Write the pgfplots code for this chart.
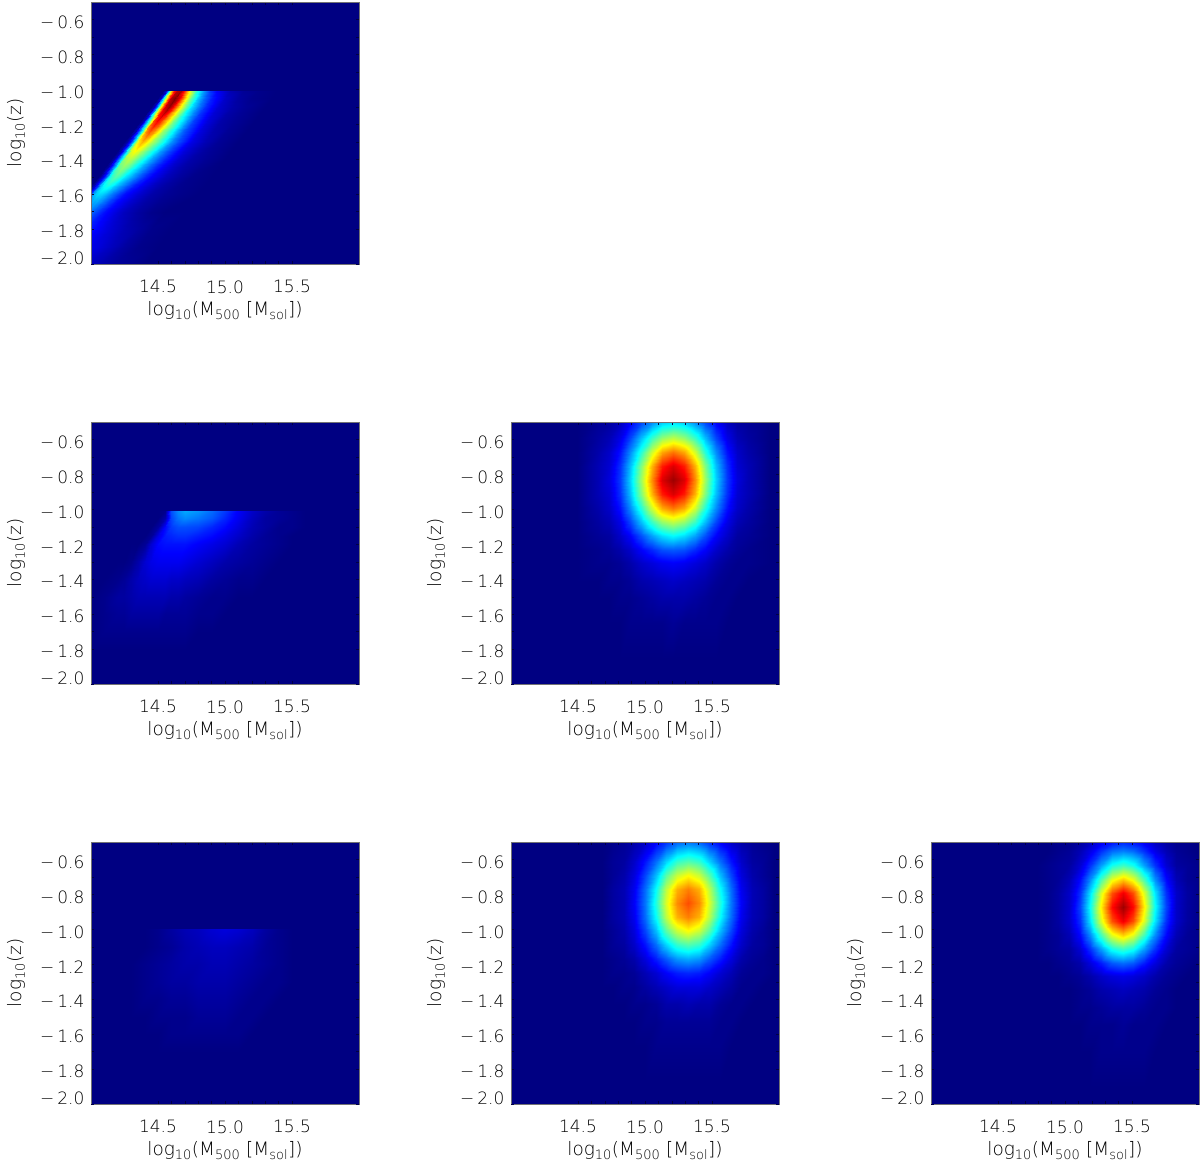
\documentclass[border=0pt]{standalone}
\usepackage{fontspec}
\setmainfont{DejaVu Sans ExtraLight}
\usepackage{pgfplots}
\usepackage{pgfplotstable}
\pgfplotsset{compat=1.18}

% first panel: the ridge runs diagonally, so each row starts at its left edge
% (column x0) and the header holds the distance from that edge
\pgfplotstableread{
y x0 0 .02 .04 .06 .08 .10 .13 .16 .20 .25 .30 .35 .40 .50 .60 .70 .85
-1.01 14.54 0 8 38 66 86 95 97 82 60 40 27 18 12 5 2 1 0
-1.05 14.50 0 7 32 58 82 95 100 92 68 47 32 22 15 7 3 1 0
-1.10 14.45 0 6 26 50 74 92 98 88 70 50 35 25 17 8 4 2 0
-1.20 14.35 0 5 18 36 58 78 86 80 65 50 38 27 19 9 4 2 0
-1.30 14.25 0 4 14 30 48 64 70 65 56 46 36 27 20 10 5 2 0
-1.40 14.15 0 4 12 26 40 52 56 53 46 37 29 22 16 8 4 2 0
-1.50 14.05 0 3 11 22 34 42 46 43 36 29 22 16 12 6 3 1 0
-1.60 13.95 0 6 16 26 32 34 33 30 25 19 14 11 8 4 2 1 0
-1.70 13.85 0 3 8 14 19 23 24 22 18 14 11 8 6 3 1 0 0
-1.80 13.75 0 2 5 8 12 15 17 17 16 14 12 10 8 5 3 1 0
-1.90 13.65 0 1 3 5 7 9 10 11 11 11 11 10 9 6 3 1 0
-2.00 13.55 0 1 2 3 4 5 6 7 7 7 7 7 7 5 3 2 0
}\panelA

% other panels: rows log z, columns log M, cells position on the colour scale (0-100)
\pgfplotstableread{
y x0 14.0 14.1 14.2 14.25 14.3 14.35 14.4 14.45 14.5 14.55 14.6 14.65 14.7 14.8 14.9 15.0 15.1 15.2 15.3 15.4 15.5 15.6 15.7
-1.01 0 0 0 0 0 0 0 0 0 0 1 20 26 29 27 23 18 12 7 4 2 1 0 0
-1.05 0 0 0 0 0 0 0 0 0 0 4 19 24 26 24 21 16 11 6 3 2 1 0 0
-1.10 0 0 0 0 0 0 0 0 0 3 13 18 20 20 19 16 13 9 5 3 1 1 0 0
-1.15 0 0 0 0 0 0 0 0 2 10 15 16 17 17 15 13 10 7 4 2 1 0 0 0
-1.20 0 0 0 0 0 0 0 2 8 13 14 14 14 14 12 10 8 5 3 2 1 0 0 0
-1.30 0 0 0 0 0 1 4 8 10 11 11 11 11 10 8 6 4 3 2 1 0 0 0 0
-1.40 0 0 0 1 2 4 6 7 8 8 8 7 7 6 5 3 2 1 1 0 0 0 0 0
-1.50 0 0 1 3 3 4 5 5 5 5 5 4 4 3 2 1 1 0 0 0 0 0 0 0
-1.60 0 0 1 2 2 3 3 3 3 3 2 2 2 2 1 1 0 0 0 0 0 0 0 0
-1.70 0 0 1 1 1 1 1 1 1 1 1 1 1 1 0 0 0 0 0 0 0 0 0 0
-1.80 0 0 0 0 0 0 0 0 0 0 0 0 0 0 0 0 0 0 0 0 0 0 0 0
}\panelB

\pgfplotstableread{
y x0 14.3 14.4 14.5 14.6 14.7 14.8 14.9 15.0 15.1 15.2 15.3 15.4 15.5 15.6
-1.0 0 0 0 1 3 5 6 8 9 8 6 3 1 0 0
-1.1 0 0 0 1 2 4 5 6 6 5 4 2 1 0 0
-1.2 0 0 1 2 3 4 4 5 5 4 3 2 1 0 0
-1.3 0 0 1 2 3 3 4 4 4 3 2 1 1 0 0
-1.4 0 0 1 1 2 2 3 3 3 2 1 1 0 0 0
-1.5 0 0 0 1 1 1 2 2 2 1 1 0 0 0 0
-1.6 0 0 0 0 1 1 1 1 1 1 0 0 0 0 0
-1.7 0 0 0 0 0 0 0 0 0 0 0 0 0 0 0
}\panelC

\pgfplotstableread{
y x0 14.49 14.65 14.73 14.81 14.89 14.97 15.05 15.13 15.21 15.29 15.37 15.45 15.53 15.61 15.69 15.77 15.93
-0.50 0 0 2 3 6 12 19 26 32 34 32 26 19 12 6 3 2 0
-0.59 0 0 3 5 10 19 31 43 52 56 52 43 31 19 10 5 3 0
-0.67 0 0 4 7 14 26 41 58 71 76 71 58 41 26 14 7 4 0
-0.75 0 0 5 8 17 31 50 70 85 91 85 70 50 31 17 8 5 0
-0.83 0 0 5 9 18 33 53 74 91 97 91 74 53 33 18 9 5 0
-0.91 0 0 5 8 17 31 50 70 85 91 85 70 50 31 17 8 5 0
-0.99 0 0 4 7 14 26 41 58 71 76 71 58 41 26 14 7 4 0
-1.07 0 0 3 5 10 19 31 43 52 56 52 43 31 19 10 5 3 0
-1.15 0 0 2 3 7 12 20 28 34 37 34 28 20 12 7 3 2 0
-1.23 0 0 1 2 4 7 12 16 20 21 20 16 12 7 4 2 1 0
-1.31 0 0 1 1 2 4 7 9 11 12 11 9 7 4 2 1 1 0
-1.41 0 0 0 1 1 2 4 5 6 7 6 5 4 2 1 1 0 0
-1.51 0 0 0 0 1 1 2 3 4 4 4 3 2 1 1 0 0 0
-1.65 0 0 0 0 0 1 1 1 1 2 1 1 1 1 0 0 0 0
-1.85 0 0 0 0 0 0 0 0 0 0 0 0 0 0 0 0 0 0
}\panelD

\pgfplotstableread{
y x0 14.68 14.76 14.84 14.92 15.00 15.08 15.16 15.24 15.32 15.40 15.48 15.56 15.64 15.72 15.80 15.88 15.96
-0.50 0 0 1 2 4 7 12 17 22 24 22 17 12 7 4 2 1 0
-0.61 0 0 2 3 7 14 23 33 42 45 42 33 23 14 7 3 2 0
-0.69 0 0 2 4 9 19 31 46 57 62 57 46 31 19 9 4 2 0
-0.77 0 0 3 5 11 23 38 56 70 75 70 56 38 23 11 5 3 0
-0.85 0 0 3 5 12 24 41 59 74 80 74 59 41 24 12 5 3 0
-0.93 0 0 3 5 11 23 38 56 70 75 70 56 38 23 11 5 3 0
-1.01 0 0 2 4 9 19 31 46 57 62 57 46 31 19 9 4 2 0
-1.09 0 0 2 3 7 14 23 33 42 45 42 33 23 14 7 3 2 0
-1.17 0 0 1 2 4 9 15 21 27 29 27 21 15 9 4 2 1 0
-1.25 0 0 1 1 2 5 8 12 15 16 15 12 8 5 2 1 1 0
-1.33 0 0 0 1 1 3 5 7 9 9 9 7 5 3 1 1 0 0
-1.43 0 0 0 0 1 1 2 4 4 5 4 4 2 1 1 0 0 0
-1.53 0 0 0 0 0 1 1 2 2 2 2 2 1 1 0 0 0 0
-1.67 0 0 0 0 0 0 1 1 1 1 1 1 1 0 0 0 0 0
-1.87 0 0 0 0 0 0 0 0 0 0 0 0 0 0 0 0 0 0
}\panelE

\pgfplotstableread{
y x0 14.79 14.87 14.95 15.03 15.11 15.19 15.27 15.35 15.43 15.51 15.59 15.67 15.75 15.83 15.91 15.99
-0.50 0 0 0 1 1 3 6 11 14 16 14 11 6 3 1 1 0
-0.55 0 0 0 1 2 5 10 17 23 25 23 17 10 5 2 1 0
-0.63 0 0 1 2 3 8 17 28 39 43 39 28 17 8 3 2 1
-0.71 0 0 1 2 5 13 26 44 60 67 60 44 26 13 5 2 1
-0.79 0 0 1 3 7 17 35 59 80 89 80 59 35 17 7 3 1
-0.87 0 0 1 3 7 19 38 64 87 97 87 64 38 19 7 3 1
-0.95 0 0 1 3 7 17 35 59 80 89 80 59 35 17 7 3 1
-1.03 0 0 1 2 5 13 26 44 60 67 60 44 26 13 5 2 1
-1.11 0 0 1 2 3 8 17 28 39 43 39 28 17 8 3 2 1
-1.19 0 0 0 1 2 4 9 15 21 23 21 15 9 4 2 1 0
-1.27 0 0 0 0 1 2 4 7 9 10 9 7 4 2 1 0 0
-1.35 0 0 0 0 0 1 2 4 5 6 5 4 2 1 0 0 0
-1.45 0 0 0 0 0 1 1 2 3 3 3 2 1 1 0 0 0
-1.55 0 0 0 0 0 0 1 1 1 2 1 1 1 0 0 0 0
-1.70 0 0 0 0 0 0 0 1 1 1 1 1 0 0 0 0 0
-1.90 0 0 0 0 0 0 0 0 0 0 0 0 0 0 0 0 0
}\panelF

% wide table -> (x,y)[value] list for the mesh
\newcommand\loadgrid[1]{%
  \pgfplotstablegetrowsof{#1}\pgfmathtruncatemacro\lastr{\pgfplotsretval-1}%
  \pgfplotstablegetcolsof{#1}\pgfmathtruncatemacro\lastc{\pgfplotsretval-1}%
  \pgfmathtruncatemacro\gridcols{\lastc-1}%
  \gdef\gridcoords{}%
  \foreach \r in {0,...,\lastr}{%
    \pgfplotstablegetelem{\r}{[index]0}\of{#1}\let\yy\pgfplotsretval
    \pgfplotstablegetelem{\r}{[index]1}\of{#1}\let\xnull\pgfplotsretval
    \foreach \c in {2,...,\lastc}{%
      \pgfplotstablegetcolumnnamebyindex{\c}\of{#1}\to\xx
      \pgfmathsetmacro\xpos{\xnull+\xx}%
      \pgfplotstablegetelem{\r}{[index]\c}\of{#1}%
      \xdef\gridcoords{\gridcoords (\xpos,\yy)[\pgfplotsretval]}%
    }%
  }%
}

\newcommand\mn{−\kern3pt}

\pgfplotsset{
  colormap={idl}{rgb255(0)=(0,0,130) rgb255(1)=(0,0,255) rgb255(3)=(0,255,255)
    rgb255(5)=(255,255,0) rgb255(7)=(255,0,0) rgb255(8)=(128,0,0)},
  panel/.style={
    scale only axis, width=268pt, height=262pt, anchor=south west,
    xmin=14, xmax=16, ymin=-2, ymax=-0.5,
    axis on top, colormap name=idl, point meta min=0, point meta max=100,
    axis background/.style={fill={rgb,255:red,0;green,0;blue,130}},
    axis line style={black!55, line width=0.6pt},
    xtick={14.5,15,15.5}, xticklabels={14.5,15.0,15.5}, minor x tick num=4,
    ytick={-1.8,-1.6,-1.4,-1.2,-1,-0.8,-0.6},
    yticklabels={\mn 1.8,\mn 1.6,\mn 1.4,\mn 1.2,\mn 1.0,\mn 0.8,\mn 0.6}, minor y tick num=1,
    extra y ticks={-2}, extra y tick labels={\mn 2.0},
    extra y tick style={yticklabel style={yshift=8.5pt}},
    tick style={color={rgb,255:red,0;green,0;blue,70}, line width=0.3pt},
    major tick length=3pt, minor tick length=3pt,
    tick label style={font=\fontsize{17}{17}\selectfont, text=black},
    xticklabel style={yshift=-13pt},
    yticklabel style={yshift=-2.5pt, xshift=-3pt},
    label style={font=\fontsize{18.5}{18.5}\selectfont, text=black},
    xlabel={log\textsubscript{10}(M\textsubscript{500} [M\textsubscript{sol}])},
    ylabel={log\textsubscript{10}(z)},
    xlabel style={at={(axis description cs:0.5,0)}, anchor=center, yshift=-47pt},
    ylabel style={at={(axis description cs:0,0.5)}, anchor=center, yshift=75pt},
  },
}

\newcommand\panel[3]{%
  \loadgrid{#3}%
  \begin{axis}[panel, at={(#1pt,#2pt)}]
    \edef\tmp{\noexpand\addplot[surf, shader=interp, mesh/cols=\gridcols, point meta=explicit]
      coordinates {\gridcoords};}\tmp
  \end{axis}%
}

\begin{document}
\begin{tikzpicture}
\path[use as bounding box] (0,0) rectangle (1200pt,1164pt);
\panel{91}{900}{\panelA}
\panel{91}{480}{\panelB}
\panel{91}{60}{\panelC}
\panel{511}{480}{\panelD}
\panel{511}{60}{\panelE}
\panel{931}{60}{\panelF}
\end{tikzpicture}
\end{document}
